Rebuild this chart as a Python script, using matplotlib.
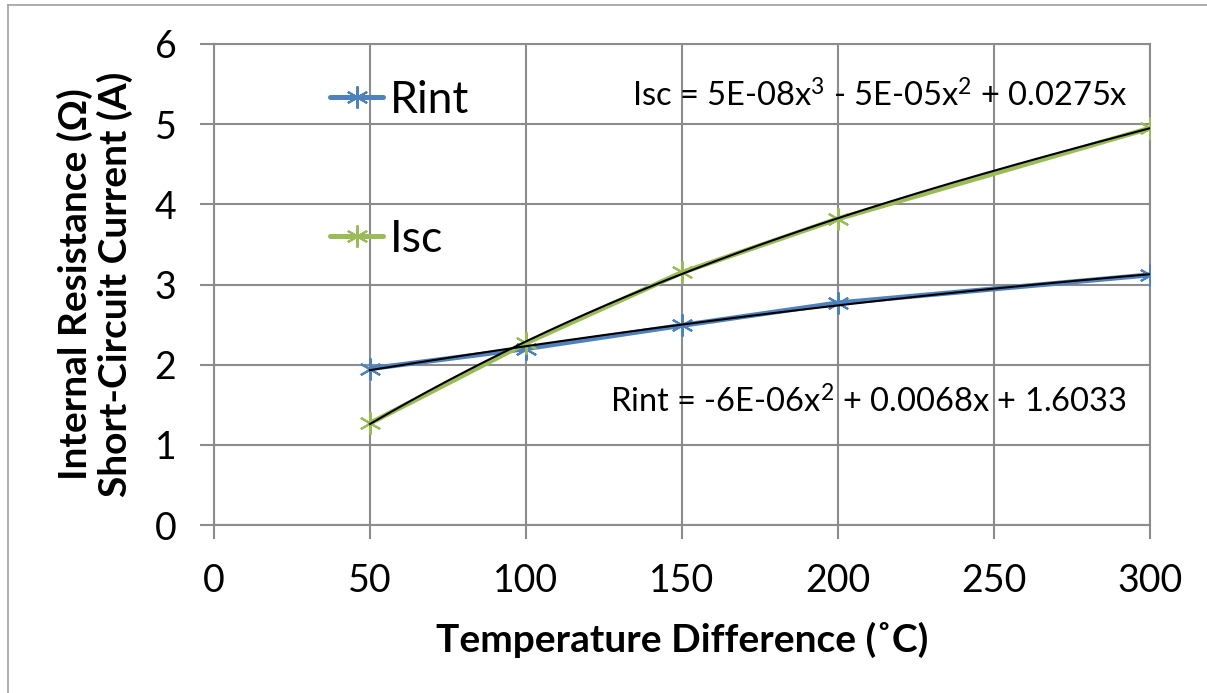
#!/usr/bin/env python3
import matplotlib
matplotlib.use("Agg")
import matplotlib.pyplot as plt
import numpy as np
from matplotlib.lines import Line2D

plt.rcParams["font.family"] = ["Lato", "DejaVu Sans"]
plt.rcParams["mathtext.fontset"] = "custom"
plt.rcParams["mathtext.rm"] = "Lato"
plt.rcParams["mathtext.it"] = "Lato"

# values
temp_diff = [50, 100, 150, 200, 300]
rint = [1.95, 2.20, 2.49, 2.77, 3.12]
isc = [1.27, 2.27, 3.15, 3.82, 4.95]

x_ticks = [0, 50, 100, 150, 200, 250, 300]
y_ticks = [0, 1, 2, 3, 4, 5, 6]

rint_eq = r"Rint = -6E-06x$^\mathrm{2}$ + 0.0068x + 1.6033"
isc_eq = r"Isc = 5E-08x$^\mathrm{3}$ - 5E-05x$^\mathrm{2}$ + 0.0275x"

BLUE = "#4F81BD"
GREEN = "#9BBB59"
GRID = "#8C8C8C"

W, H = 1207, 693
fig = plt.figure(figsize=(W / 100, H / 100), dpi=100)
ax = fig.add_axes([214 / W, 1 - 525 / H, (1150 - 214) / W, (525 - 44) / H])

star = (6, 2, 0)
ax.plot(temp_diff, rint, color=BLUE, lw=3.6, marker=star, ms=16, mew=1.5,
        mec=BLUE, label="Rint", solid_capstyle="round", zorder=3)
ax.plot(temp_diff, isc, color=GREEN, lw=3.6, marker=star, ms=16, mew=1.5,
        mec=GREEN, label="Isc", solid_capstyle="round", zorder=3)

# trend lines: quadratic for Rint, cubic through origin for Isc
xs = np.linspace(min(temp_diff), max(temp_diff), 200)
t = np.array(temp_diff, dtype=float)
p_rint = np.polyfit(t, rint, 2)
ax.plot(xs, np.polyval(p_rint, xs), color="black", lw=1.5, zorder=4)
A = np.column_stack([t ** 3, t ** 2, t])
c_isc, *_ = np.linalg.lstsq(A, np.array(isc), rcond=None)
ax.plot(xs, c_isc[0] * xs ** 3 + c_isc[1] * xs ** 2 + c_isc[2] * xs,
        color="black", lw=1.5, zorder=4)

ax.set_xlim(0, 300)
ax.set_ylim(0, 6)
ax.set_xticks(x_ticks)
ax.set_yticks(y_ticks)
ax.grid(True, color=GRID, lw=1.5)
ax.set_axisbelow(True)
for s in ax.spines.values():
    s.set_color(GRID)
    s.set_linewidth(1.5)
ax.tick_params(direction="out", length=10, width=1.5, color=GRID,
               labelsize=27, pad=17)

ax.set_xlabel("Temperature Difference (\u02daC)", fontsize=28, fontweight="bold")
ax.xaxis.set_label_coords(0.5, (525 - 640) / 481)
ax.xaxis.label.set_va("center")
ax.set_ylabel("Internal Resistance (\u03a9)\nShort-Circuit Current (A)",
              fontsize=28, fontweight="bold", linespacing=1.15)
ax.yaxis.set_label_coords((95 - 214) / 936, 0.5)
ax.yaxis.label.set_va("center")

ax.legend(loc="upper left", bbox_to_anchor=(330 / W, 1 - 80 / H),
          bbox_transform=fig.transFigure, frameon=False, fontsize=32,
          handlelength=1.2, handletextpad=0.15, labelspacing=2.2,
          borderpad=0, borderaxespad=0)

fig.text(632 / W, 1 - 107 / H, isc_eq, fontsize=23.5, ha="left", va="baseline")
fig.text(610 / W, 1 - 413 / H, rint_eq, fontsize=23.5, ha="left", va="baseline")

# outer frame of the cropped chart
fig.add_artist(Line2D([8 / W, 8 / W], [0, 1 - 5 / H], color="#A0A0A0", lw=1.2,
                      transform=fig.transFigure))
fig.add_artist(Line2D([8 / W, 1], [1 - 5 / H, 1 - 5 / H], color="#A0A0A0", lw=1.2,
                      transform=fig.transFigure))

fig.savefig("out.png", dpi=100)
